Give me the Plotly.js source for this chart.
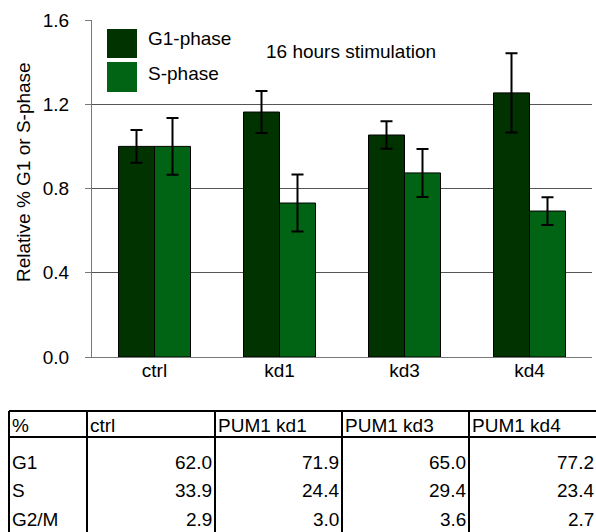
<!DOCTYPE html>
<html>
<head>
<meta charset="utf-8">
<script src="https://cdn.plot.ly/plotly-3.0.1.min.js"></script>
<style>html,body{margin:0;padding:0;background:#fff;}#chart{width:596px;height:532px;}</style>
</head>
<body>
<div id="chart"></div>
<script>
// ---- data ----
const categories = ["ctrl", "kd1", "kd3", "kd4"];
const g1Values = [1.00, 1.163, 1.054, 1.254];
const g1Errors = [0.078, 0.100, 0.065, 0.188];
const sValues = [1.00, 0.731, 0.874, 0.693];
const sErrors = [0.135, 0.135, 0.114, 0.066];
const seriesNames = ["G1-phase", "S-phase"];
const annotationText = "16 hours stimulation";
const yTitle = "Relative % G1 or S-phase";
const yTicks = [0, 0.4, 0.8, 1.2, 1.6];

const tableHeader = ["%", "ctrl", "PUM1 kd1", "PUM1 kd3", "PUM1 kd4"];
const tableRowLabels = ["G1", "S", "G2/M"];
const tableCtrl = [62.0, 33.9, 2.9];
const tableKd1 = [71.9, 24.4, 3.0];
const tableKd3 = [65.0, 29.4, 3.6];
const tableKd4 = [77.2, 23.4, 2.7];

// ---- layout helpers (pixel -> paper) ----
const W = 596, H = 532;
const M = {l: 92, r: 4, t: 20, b: 175};
const PW = W - M.l - M.r, PH = H - M.t - M.b;
const px = x => (x - M.l) / PW;
const py = y => (H - M.b - y) / PH;

const FONT = "Liberation Sans, Arial, Helvetica, sans-serif";
const FS = 19;
const colG1 = "#003300";
const colS = "#006414";

const traces = [
  {
    type: "bar", name: seriesNames[0], x: categories, y: g1Values,
    marker: {color: colG1, line: {color: "#000", width: 1}},
    error_y: {type: "data", array: g1Errors, visible: true, color: "#000", thickness: 2, width: 6},
    showlegend: false
  },
  {
    type: "bar", name: seriesNames[1], x: categories, y: sValues,
    marker: {color: colS, line: {color: "#000", width: 1}},
    error_y: {type: "data", array: sErrors, visible: true, color: "#000", thickness: 2, width: 6},
    showlegend: false
  }
];

const shapes = [];
const annotations = [];

// legend (drawn manually)
const legendBoxes = [[107, 29, 137, 58], [107, 62, 137, 92]];
const legendCols = [colG1, colS];
const legendTextY = [39, 73];
seriesNames.forEach((n, i) => {
  const b = legendBoxes[i];
  shapes.push({type: "rect", xref: "paper", yref: "paper", x0: px(b[0]), x1: px(b[2]), y0: py(b[1]), y1: py(b[3]),
    fillcolor: legendCols[i], line: {width: 0}, layer: "above"});
  annotations.push({xref: "paper", yref: "paper", x: px(146), y: py(legendTextY[i]), xanchor: "left", yanchor: "middle",
    text: n, showarrow: false, font: {family: FONT, size: FS, color: "#000"}});
});

annotations.push({xref: "paper", yref: "paper", x: px(264), y: py(52), xanchor: "left", yanchor: "middle",
  text: annotationText, showarrow: false, font: {family: FONT, size: FS, color: "#000"}});

// y-axis title (as rotated annotation so it can sit slightly above centre)
annotations.push({xref: "paper", yref: "paper", x: px(23), y: py(172), xanchor: "center", yanchor: "middle",
  text: yTitle, textangle: -90, showarrow: false, font: {family: FONT, size: FS, color: "#000"}});

// table
const colEdges = [9, 87, 215, 342, 469, 597];
const tTop = 411, tHead = 437, tBottom = 540;
colEdges.forEach(x => shapes.push({type: "line", xref: "paper", yref: "paper", x0: px(x), x1: px(x), y0: py(tTop), y1: py(tBottom), line: {color: "#000", width: 2}}));
[tTop, tHead].forEach(y => shapes.push({type: "line", xref: "paper", yref: "paper", x0: px(colEdges[0]), x1: px(W + 2), y0: py(y), y1: py(y), line: {color: "#000", width: 2}}));

const tFont = {family: FONT, size: FS, color: "#000"};
tableHeader.forEach((h, i) => {
  annotations.push({xref: "paper", yref: "paper", x: px(colEdges[i] + 1), y: py(425), xanchor: "left", yanchor: "middle",
    text: h, showarrow: false, font: tFont});
});
const rowY = [462, 490, 519];
const tableCols = [tableCtrl, tableKd1, tableKd3, tableKd4];
tableRowLabels.forEach((r, j) => {
  annotations.push({xref: "paper", yref: "paper", x: px(colEdges[0] + 1), y: py(rowY[j]), xanchor: "left", yanchor: "middle",
    text: r, showarrow: false, font: tFont});
  tableCols.forEach((col, i) => {
    annotations.push({xref: "paper", yref: "paper", x: px(colEdges[i + 2] - 1), y: py(rowY[j]), xanchor: "right", yanchor: "middle",
      text: col[j].toFixed(1), showarrow: false, font: tFont});
  });
});

const layout = {
  width: W, height: H,
  margin: M,
  paper_bgcolor: "#fff", plot_bgcolor: "#fff",
  font: {family: FONT, size: FS, color: "#000"},
  barmode: "group", bargap: 0.424, bargroupgap: 0,
  showlegend: false,
  xaxis: {
    type: "category", range: [-0.5, 3.5],
    showline: true, linecolor: "#777", linewidth: 1,
    ticks: "", showgrid: false, zeroline: false,
    tickfont: {family: FONT, size: FS, color: "#000"},
    ticklabelstandoff: -4
  },
  yaxis: {
    range: [0, 1.6], tickvals: yTicks, tickformat: ".1f",
    showline: true, linecolor: "#777", linewidth: 1,
    ticks: "outside", ticklen: 6, tickcolor: "#777",
    showgrid: true, gridcolor: "#555", gridwidth: 1, zeroline: false,
    tickfont: {family: FONT, size: FS, color: "#000"},
    ticklabelstandoff: 12
  },
  shapes: shapes,
  annotations: annotations
};

Plotly.newPlot("chart", traces, layout, {displayModeBar: false, staticPlot: true});
</script>
</body>
</html>
